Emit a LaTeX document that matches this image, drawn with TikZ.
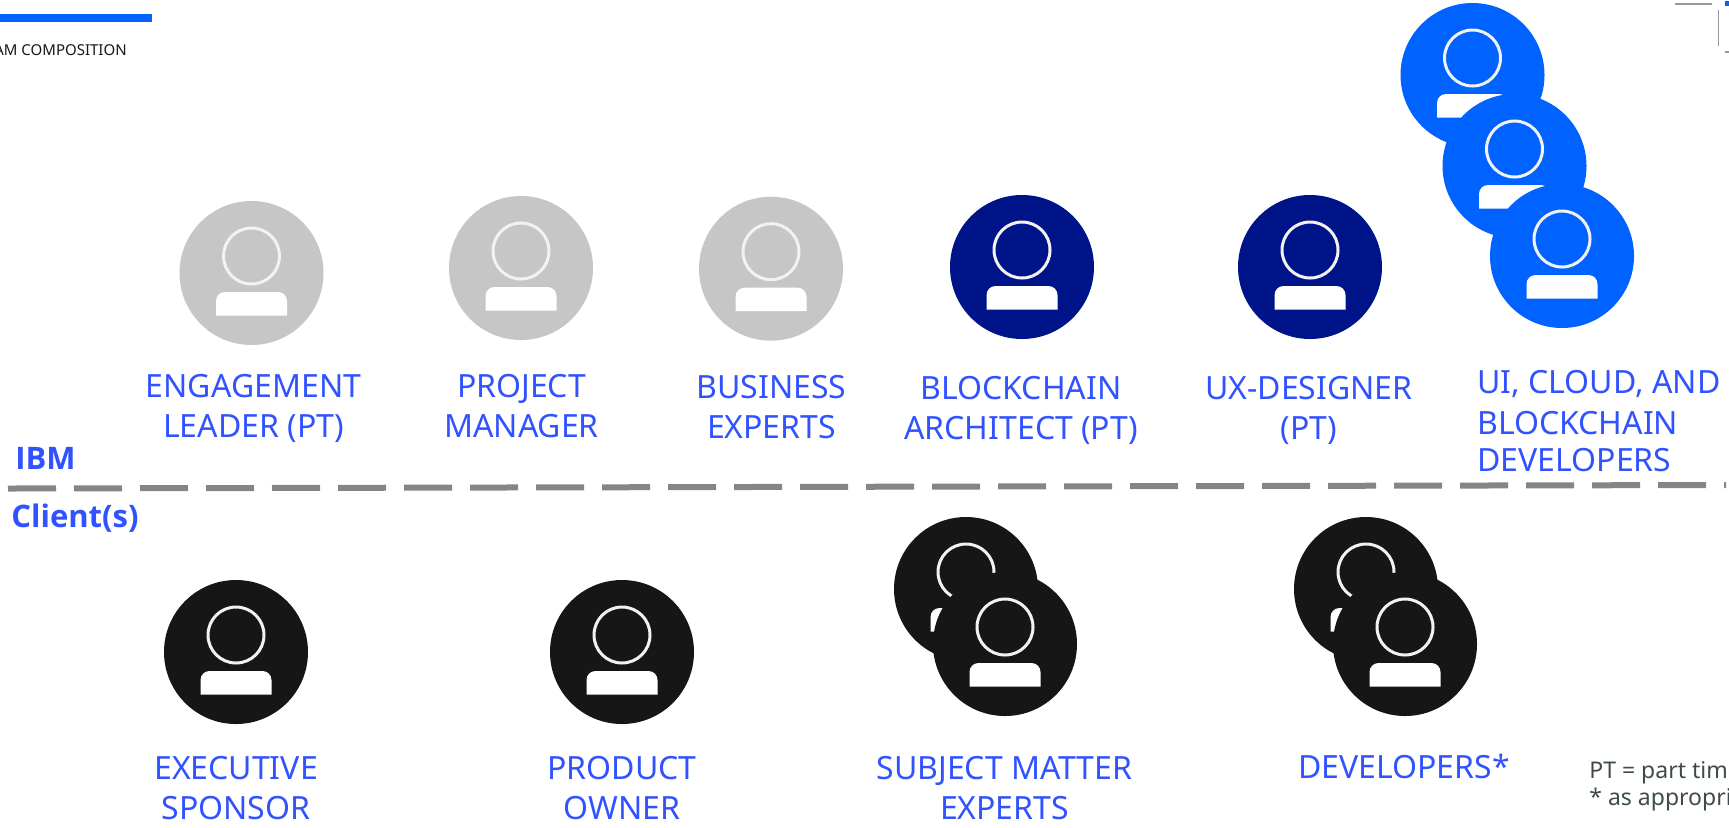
\documentclass[tikz,border=0pt]{standalone}
\usepackage{fontspec}
\setmainfont{Noto Sans}
\newfontfamily\sidefont{Open Sans}
\definecolor{labelblue}{HTML}{3152FF}
\definecolor{ibmblue}{HTML}{0062FF}
\definecolor{navy}{HTML}{00148A}
\definecolor{softgray}{HTML}{C6C6C6}
\definecolor{ink}{HTML}{161616}
\definecolor{rulegray}{HTML}{858585}
\definecolor{notegray}{HTML}{3E4A4E}
\tikzset{
  disc/.style={circle,inner sep=0pt,minimum size=72pt,draw=none},
  headring/.style={circle,inner sep=0pt,minimum size=28pt,draw=white!95!black,line width=1.5pt},
  rolelabel/.style={text=labelblue,font=\fontsize{16}{20}\selectfont,align=center,inner sep=0pt},
  sidelabel/.style={text=labelblue,font=\fontsize{15.5}{18}\selectfont\sidefont\bfseries,anchor=west,inner sep=0pt},
  notetext/.style={text=notegray,font=\fontsize{11.5}{13.5}\selectfont,anchor=base west,inner sep=0pt},
  divider/.style={rulegray,line width=3pt,dash pattern=on 24pt off 9pt},
  marks/.style={gray!80,line width=.9pt}
}
\newcommand{\personicon}[4]{%
  \node[disc,fill=#4] (#1) at (#2,#3) {};
  \begin{scope}[shift={(#2,#3)}]
    \node[headring] (#1head) at (0,-17) {};
    \fill[white] (-35.5,42.5) {[rounded corners=4.5pt] -- (-35.5,19) -- (35.5,19)} -- (35.5,42.5) -- cycle;
  \end{scope}
}
\begin{document}
\begin{tikzpicture}[x=.5pt,y=-.5pt]
\useasboundingbox (0,0) rectangle (1729,827);
\clip (0,0) rectangle (1729,827);
% top decoration
\fill[ibmblue] (0,14) rectangle (151.5,21.5);
\node[anchor=base west,inner sep=0pt,text=ink,font=\fontsize{7.5}{9}\selectfont] (title) at (-6,55) {AM COMPOSITION};
\draw[marks] (1675,4) -- (1712,4);
\draw[marks] (1718.5,10) -- (1718.5,46);
\draw[marks] (1725,52) -- (1729,52);
\fill[ibmblue] (1725,1) rectangle (1729,6);
% IBM row
\personicon{engage}{251.5}{273}{softgray}
\personicon{pm}{521}{268}{softgray}
\personicon{biz}{771}{268.7}{softgray}
\personicon{arch}{1022}{267}{navy}
\personicon{ux}{1310}{267}{navy}
\personicon{devA}{1472.5}{75}{ibmblue}
\personicon{devB}{1514.5}{166}{ibmblue}
\personicon{devC}{1562}{256}{ibmblue}
% Client row
\personicon{exec}{236}{652}{ink}
\personicon{owner}{622}{652}{ink}
\personicon{smeA}{966}{589}{ink}
\personicon{smeB}{1005}{644}{ink}
\personicon{cdevA}{1366}{589}{ink}
\personicon{cdevB}{1405}{644}{ink}
% labels
\node[rolelabel] (l1) at (253.5,408) {ENGAGEMENT\\LEADER (PT)};
\node[rolelabel] (l2) at (521.5,406) {PROJECT\\MANAGER};
\node[rolelabel] (l3) at (771.5,407) {BUSINESS\\EXPERTS};
\node[rolelabel] (l4) at (1021,410) {BLOCKCHAIN\\ARCHITECT (PT)};
\node[rolelabel] (l5) at (1309,410) {UX-DESIGNER\\(PT)};
\node[rolelabel,anchor=north west,align=left] (l6) at (1477,370.2) {UI, CLOUD, AND\\[.25pt]BLOCKCHAIN\\[-1.5pt]DEVELOPERS};
\node[rolelabel] (l7) at (236,788) {EXECUTIVE\\SPONSOR};
\node[rolelabel] (l8) at (622,788) {PRODUCT\\OWNER};
\node[rolelabel] (l9) at (1004.5,788) {SUBJECT MATTER\\EXPERTS};
\node[rolelabel] (l10) at (1404,766) {DEVELOPERS*};
\node[sidelabel] (ibm) at (15,458) {IBM};
\node[sidelabel] (client) at (11,518) {Client(s)};
\node[notetext] (n1) at (1589,778) {PT = part tim};
\node[notetext] (n2) at (1589,805) {* as appropri};
% divider
\coordinate (divL) at (8,488.5);
\coordinate (divR) at (1726,485);
\draw[divider] (divL) -- (divR);
\end{tikzpicture}
\end{document}
